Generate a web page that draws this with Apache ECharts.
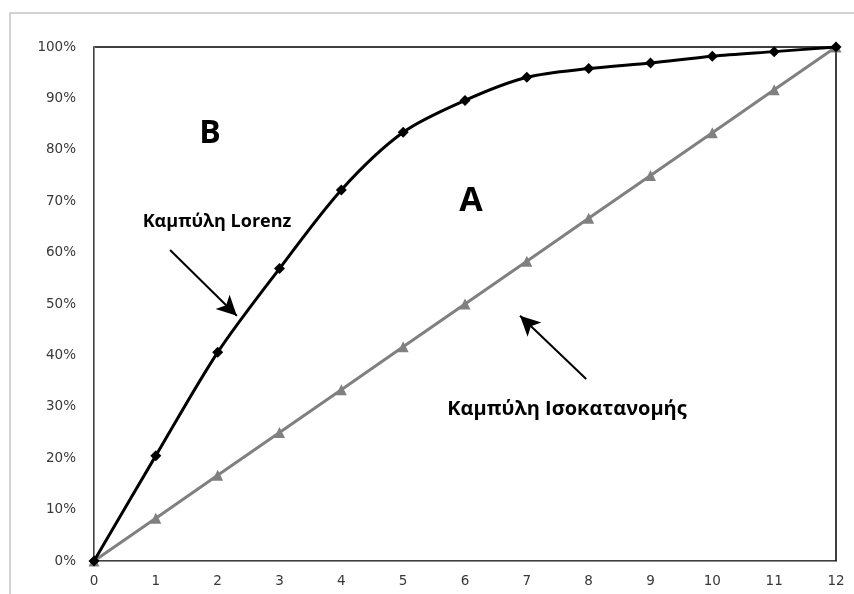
<!DOCTYPE html>
<html>
<head>
<meta charset="utf-8">
<script src="https://cdn.jsdelivr.net/npm/echarts@6/dist/echarts.min.js"></script>
<style>
  html, body { margin: 0; padding: 0; background: #fff; }
  #chart { width: 854px; height: 594px; }
</style>
</head>
<body>
<div id="chart"></div>
<script>
    'use strict';
    // x axis: population groups 0..12
    var xValues = [0, 1, 2, 3, 4, 5, 6, 7, 8, 9, 10, 11, 12];
    // Lorenz curve (share, 0..1)
    var lorenz = [0, 0.205, 0.406, 0.569, 0.722, 0.834, 0.896, 0.941, 0.958, 0.969, 0.982, 0.991, 1];
    // line of equality
    var equality = [0, 0.083, 0.167, 0.25, 0.333, 0.417, 0.5, 0.583, 0.667, 0.75, 0.833, 0.917, 1];
    // annotation arrows, in data units [x, y]
    var lorenzArrow = [[1.23, 0.605], [2.31, 0.477]];
    var equalityArrow = [[7.96, 0.354], [6.89, 0.477]];

    var pairs = function (ys) {
        return xValues.map(function (x, i) { return [x, ys[i]]; });
    };
    var arrow = function (pts) {
        return [{ coord: pts[0], symbol: 'none' }, { coord: pts[1], symbol: 'arrow' }];
    };
    var label = function (x, y, text, size) {
        return {
            type: 'text', x: x, y: y, silent: true,
            style: { text: text, font: 'bold ' + size + 'px "Open Sans"', fill: '#000', align: 'center', verticalAlign: 'middle' }
        };
    };

    var myChart = echarts.init(document.getElementById('chart'));
    myChart.setOption({
        animation: false,
        backgroundColor: '#fff',
        grid: {
            left: 94, top: 47, right: 18, bottom: 33,
            show: true, borderColor: '#000', borderWidth: 1.5, backgroundColor: 'transparent'
        },
        xAxis: {
            type: 'value', min: 0, max: 12, interval: 1,
            axisLine: { show: true, lineStyle: { color: '#8c8c8c', width: 1 } },
            axisTick: { show: false },
            splitLine: { show: false },
            axisLabel: { color: '#383838', fontFamily: 'DejaVu Sans', fontSize: 13.5, margin: 13 }
        },
        yAxis: {
            type: 'value', min: 0, max: 1, interval: 0.1,
            axisLine: { show: true, lineStyle: { color: '#8c8c8c', width: 1 } },
            axisTick: { show: false },
            splitLine: { show: false },
            axisLabel: {
                color: '#383838', fontFamily: 'DejaVu Sans', fontSize: 13.5, margin: 18,
                formatter: function (v) { return Math.round(v * 100) + '%'; }
            }
        },
        graphic: [
            { type: 'rect', shape: { x: 10, y: 13, width: 900, height: 700 },
              style: { fill: 'none', stroke: '#c4c4c4', lineWidth: 1.5 }, silent: true },
            label(210, 134, 'B', 32),
            label(471, 201, 'A', 34),
            label(217, 222, 'Καμπύλη Lorenz', 18),
            label(567, 409, 'Καμπύλη Ισοκατανομής', 20)
        ],
        series: [
            {
                name: 'Ισοκατανομή', type: 'line', data: pairs(equality),
                symbol: 'triangle', symbolSize: 11,
                lineStyle: { color: '#808080', width: 3 },
                itemStyle: { color: '#808080' },
                markLine: {
                    silent: true, symbolSize: [15, 20],
                    lineStyle: { color: '#000', width: 2, type: 'solid' },
                    label: { show: false },
                    data: [arrow(lorenzArrow), arrow(equalityArrow)]
                },
                z: 2
            },
            {
                name: 'Lorenz', type: 'line', data: pairs(lorenz),
                smooth: 0.3,
                symbol: 'diamond', symbolSize: 11,
                lineStyle: { color: '#000', width: 3 },
                itemStyle: { color: '#000' },
                z: 3
            }
        ]
    });
</script>
</body>
</html>
